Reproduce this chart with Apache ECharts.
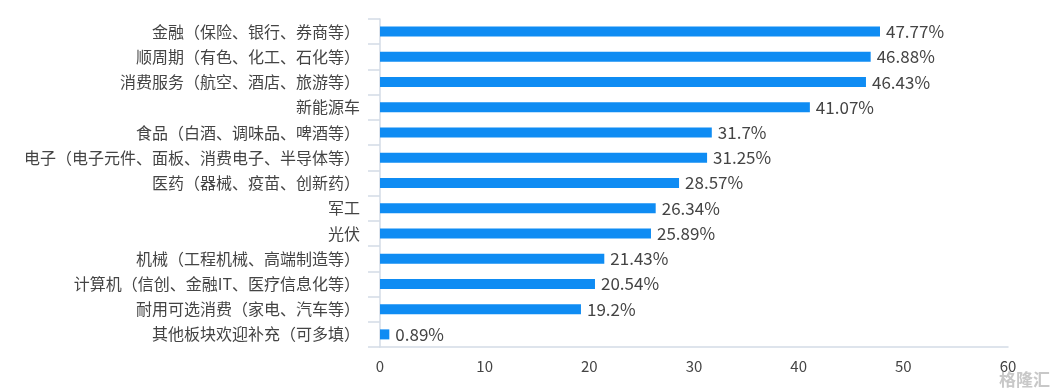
<!DOCTYPE html>
<html>
<head>
<meta charset="utf-8">
<script src="https://cdn.jsdelivr.net/npm/echarts@6/dist/echarts.min.js"></script>
<style>
html,body{margin:0;padding:0;background:#fff;}
#c{width:1056px;height:392px;}
</style>
</head>
<body>
<div id="c"></div>
<script>
const categories = [
  "金融（保险、银行、券商等）",
  "顺周期（有色、化工、石化等）",
  "消费服务（航空、酒店、旅游等）",
  "新能源车",
  "食品（白酒、调味品、啤酒等）",
  "电子（电子元件、面板、消费电子、半导体等）",
  "医药（器械、疫苗、创新药）",
  "军工",
  "光伏",
  "机械（工程机械、高端制造等）",
  "计算机（信创、金融IT、医疗信息化等）",
  "耐用可选消费（家电、汽车等）",
  "其他板块欢迎补充（可多填）"
];
const values = [47.77, 46.88, 46.43, 41.07, 31.7, 31.25, 28.57, 26.34, 25.89, 21.43, 20.54, 19.2, 0.89];
const xTicks = { min: 0, max: 60, interval: 10 };
const watermark = "格隆汇";

const chart = echarts.init(document.getElementById('c'), null, {renderer: 'canvas'});
const font = "'Noto Sans CJK SC','Noto Sans',sans-serif";
const axisColor = '#d3dbe6';
chart.setOption({
  backgroundColor: '#ffffff',
  animation: false,
  grid: { left: 380, right: 48, top: 19, bottom: 45, containLabel: false },
  xAxis: {
    type: 'value',
    min: xTicks.min, max: xTicks.max, interval: xTicks.interval,
    axisLine: { show: true, lineStyle: { color: axisColor, width: 1.5 } },
    axisTick: { show: false },
    splitLine: { show: false },
    axisLabel: { color: '#444444', fontSize: 15, fontFamily: font, margin: 12 }
  },
  yAxis: {
    type: 'category',
    inverse: true,
    data: categories,
    axisLine: { show: true, lineStyle: { color: axisColor, width: 1.5 } },
    axisTick: { show: true, length: 12, lineStyle: { color: axisColor, width: 1.5 } },
    axisLabel: { color: '#444444', fontSize: 16, fontFamily: font, margin: 20 }
  },
  series: [{
    type: 'bar',
    data: values,
    barWidth: 10,
    itemStyle: { color: '#0f8cf3' },
    label: {
      show: true,
      position: 'right',
      distance: 6,
      color: '#444444',
      fontSize: 17,
      fontFamily: font,
      formatter: p => p.value + '%'
    }
  }],
  graphic: [{
    type: 'text',
    right: 6,
    bottom: 4,
    style: { text: watermark, fill: '#c8c8c8', font: "bold 17px 'Noto Sans CJK SC'" }
  }]
});
</script>
</body>
</html>
